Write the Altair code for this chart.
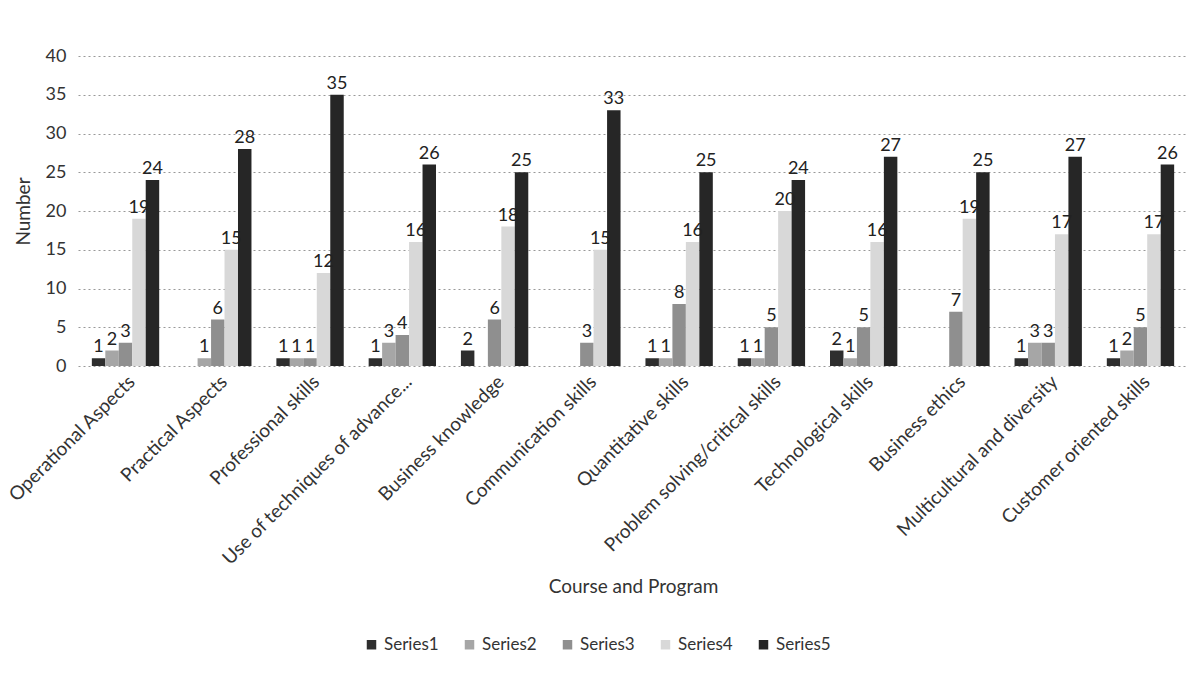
import altair as alt
import pandas as pd

categories = [
    "Operational Aspects", "Practical Aspects", "Professional skills",
    "Use of techniques of advance...", "Business knowledge", "Communication skills",
    "Quantitative skills", "Problem solving/critical skills", "Technological skills",
    "Business ethics", "Multicultural and diversity", "Customer oriented skills",
]
series_names = ["Series1", "Series2", "Series3", "Series4", "Series5"]
series1 = [1, 0, 1, 1, 2, 0, 1, 1, 2, 0, 1, 1]
series2 = [2, 1, 1, 3, 0, 0, 1, 1, 1, 0, 3, 2]
series3 = [3, 6, 1, 4, 6, 3, 8, 5, 5, 7, 3, 5]
series4 = [19, 15, 12, 16, 18, 15, 16, 20, 16, 19, 17, 17]
series5 = [24, 28, 35, 26, 25, 33, 25, 24, 27, 25, 27, 26]
colors = ["#2e2e2e", "#a6a6a6", "#8f8f8f", "#d8d8d8", "#262626"]

rows = []
for s, vals in zip(series_names, [series1, series2, series3, series4, series5]):
    for c, v in zip(categories, vals):
        rows.append({"category": c, "series": s, "value": v,
                     "label": str(v) if v > 0 else ""})
df = pd.DataFrame(rows)

FONT = "Lato"
TXT = "#333333"

x = alt.X("category:N", sort=categories, title="Course and Program",
          scale=alt.Scale(paddingInner=0.27, paddingOuter=0.15),
          axis=alt.Axis(labelAngle=-45, labelFontSize=19, labelColor=TXT, labelLimit=400,
                        titleFontSize=19, titleFontWeight="normal", titleColor=TXT,
                        titleY=211, ticks=False, domain=False, labelPadding=6,
                        labelFont=FONT, titleFont=FONT))
xo = alt.XOffset("series:N", sort=series_names)
y = alt.Y("value:Q", title="Number",
          scale=alt.Scale(domain=[0, 40]),
          axis=alt.Axis(values=[0, 5, 10, 15, 20, 25, 30, 35, 40], labelFontSize=18,
                        labelColor=TXT, titleFontSize=19, titleFontWeight="normal",
                        titleColor=TXT, gridDash=[2, 3], gridColor="#999",
                        domain=False, ticks=False, labelPadding=12, titlePadding=12,
                        labelFont=FONT, titleFont=FONT, labelOverlap=False))

bars = alt.Chart(df).mark_bar().encode(
    x=x, xOffset=xo, y=y,
    color=alt.Color("series:N", sort=series_names,
                    scale=alt.Scale(domain=series_names, range=colors),
                    legend=alt.Legend(orient="none", legendX=285, legendY=580,
                                      direction="horizontal", title=None,
                                      symbolType="square", symbolSize=90,
                                      labelFontSize=17, labelFont=FONT, labelColor=TXT,
                                      columnPadding=22)),
)

texts = alt.Chart(df).mark_text(dy=-11, fontSize=18, font=FONT, color="#222").encode(
    x=x, xOffset=xo, y=y,
    text="label:N",
)

chart = (bars + texts).properties(
    width=1110, height=310,
    padding={"left": 5, "top": 47, "right": 5, "bottom": 5},
).configure_view(stroke=None).configure_legend(symbolStrokeWidth=0)

chart.save("out.html", embed_options={"renderer": "svg", "actions": False})
